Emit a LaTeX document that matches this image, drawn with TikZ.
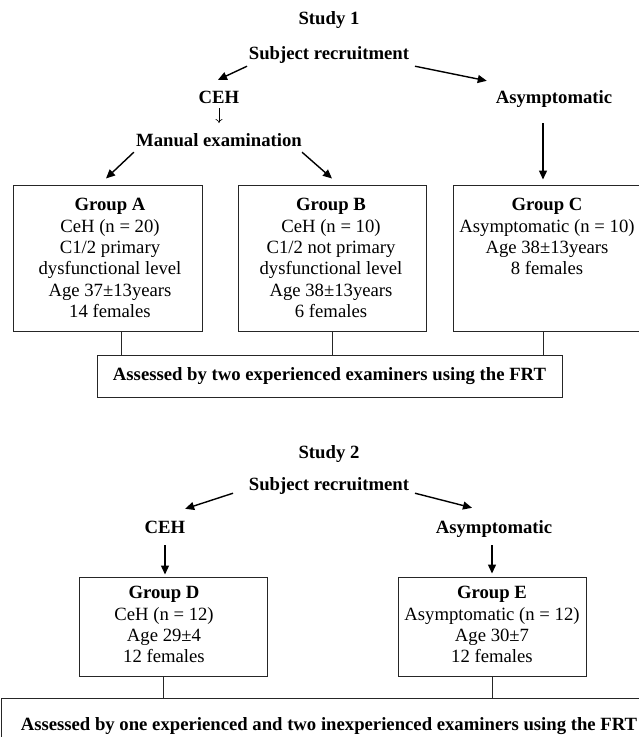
\documentclass[tikz,border=0pt]{standalone}
\usepackage{fontspec}
\setmainfont{Liberation Serif}
\usetikzlibrary{arrows.meta,positioning}
\newcommand{\flowfont}{\fontsize{18.7pt}{21.3pt}\selectfont}
\tikzset{
  heading/.style={font=\flowfont\bfseries, inner sep=0pt, text height=13pt, text depth=4pt},
  groupframe/.style={draw=black!85, line width=1pt, inner sep=0pt},
  grouptext/.style={font=\flowfont, align=center, inner sep=0pt, anchor=north},
  assessbox/.style={draw=black!85, line width=1pt, inner sep=0pt, font=\flowfont\bfseries},
  flow/.style={-{Triangle[length=9pt,width=8pt]}, line width=1.4pt},
  joint/.style={draw=black!85, line width=1pt},
}
\begin{document}
\begin{tikzpicture}[x=1pt,y=-1pt]
  \clip (0,0) rectangle (639,737);
  \node[heading] (study1) at (329,19.7) {Study 1};
  \node[heading] (recruit1) at (329,54.7) {Subject recruitment};
  \node[heading] (ceh1) at (219,98.7) {CEH};
  \node[heading] (asym1) at (554,98.7) {Asymptomatic};
  \node[heading] (manual1) at (219,141.7) {Manual examination};
  \node[groupframe, minimum width=189pt, minimum height=146pt] (boxA) at (107.5,258) {};
  \node[groupframe, minimum width=188pt, minimum height=146pt] (boxB) at (332,258) {};
  \node[groupframe, minimum width=189pt, minimum height=146pt] (boxC) at (547.5,258) {};
  \node[grouptext] (txtA) at (110,198.4) {\textbf{Group A}\\CeH (n = 20)\\C1/2 primary\\dysfunctional level\\Age 37±13years\\14 females};
  \node[grouptext] (txtB) at (331,198.4) {\textbf{Group B}\\CeH (n = 10)\\C1/2 not primary\\dysfunctional level\\Age 38±13years\\6 females};
  \node[grouptext] (txtC) at (547,198.4) {\textbf{Group C}\\Asymptomatic (n = 10)\\Age 38±13years\\8 females};
  \node[assessbox, minimum width=465pt, minimum height=42pt] (frt1) at (329.5,376) {Assessed by two experienced examiners using the FRT};
  \node[heading] (study2) at (329,453.7) {Study 2};
  \node[heading] (recruit2) at (329,485.7) {Subject recruitment};
  \node[heading] (ceh2) at (165,528.7) {CEH};
  \node[heading] (asym2) at (494,528.7) {Asymptomatic};
  \node[groupframe, minimum width=188pt, minimum height=99pt] (boxD) at (173,626.5) {};
  \node[groupframe, minimum width=188pt, minimum height=99pt] (boxE) at (492,626.5) {};
  \node[grouptext] (txtD) at (164,586.4) {\textbf{Group D}\\CeH (n = 12)\\Age 29±4\\12 females};
  \node[grouptext] (txtE) at (492,586.4) {\textbf{Group E}\\Asymptomatic (n = 12)\\Age 30±7\\12 females};
  \node[assessbox, minimum width=655pt, minimum height=56pt] (frt2) at (329,726) {Assessed by one experienced and two inexperienced examiners using the FRT};
  \coordinate (c1) at ([xshift=-4.5pt]boxC.north);
  \coordinate (la) at ([xshift=13.5pt]boxA.south);
  \coordinate (lc) at ([xshift=-4.5pt]boxC.south);
  \coordinate (ld) at ([xshift=-10pt]boxD.south);
  \begin{scope}[flow]
    \draw ([shift={(-1.7,2.8)}]recruit1.south west) -- ([shift={(-1,-10.2)}]ceh1.north);
    \draw ([shift={(5.7,2.8)}]recruit1.south east) -- ([shift={(-8.9,-9.2)}]asym1.north west);
    \draw ([shift={(-2.1,1.8)}]manual1.south west) -- ([shift={(-1.5,-6)}]boxA.north);
    \draw ([shift={(0,1.8)}]manual1.south east) -- ([shift={(0,-6)}]boxB.north);
    \draw[shorten <=15.8pt, shorten >=5pt] (c1 |- asym1.south) -- (c1);
    \draw ([shift={(-15.7,-1.2)}]recruit2.south west) -- ([shift={(-0.3,-11.2)}]ceh2.north east);
    \draw ([shift={(5.7,-1.2)}]recruit2.south east) -- ([shift={(-22,-12.2)}]asym2.north);
    \draw[shorten <=7.8pt, shorten >=2pt] (ceh2.south) -- (ceh2.south |- boxD.north);
    \draw[shorten <=7.8pt, shorten >=3pt] (boxE.north |- asym2.south) -- (boxE.north);
  \end{scope}
  \draw[-{To[length=4pt,width=7pt]}, line width=0.6pt, shorten <=1pt, shorten >=10pt] (ceh1.south) -- (manual1.north);
  \begin{scope}[joint]
    \draw (la) -- (la |- frt1.north);
    \draw (boxB.south) -- (boxB.south |- frt1.north);
    \draw (lc) -- (lc |- frt1.north);
    \draw (ld) -- (ld |- frt2.north);
    \draw (boxE.south) -- (boxE.south |- frt2.north);
  \end{scope}
\end{tikzpicture}
\end{document}
